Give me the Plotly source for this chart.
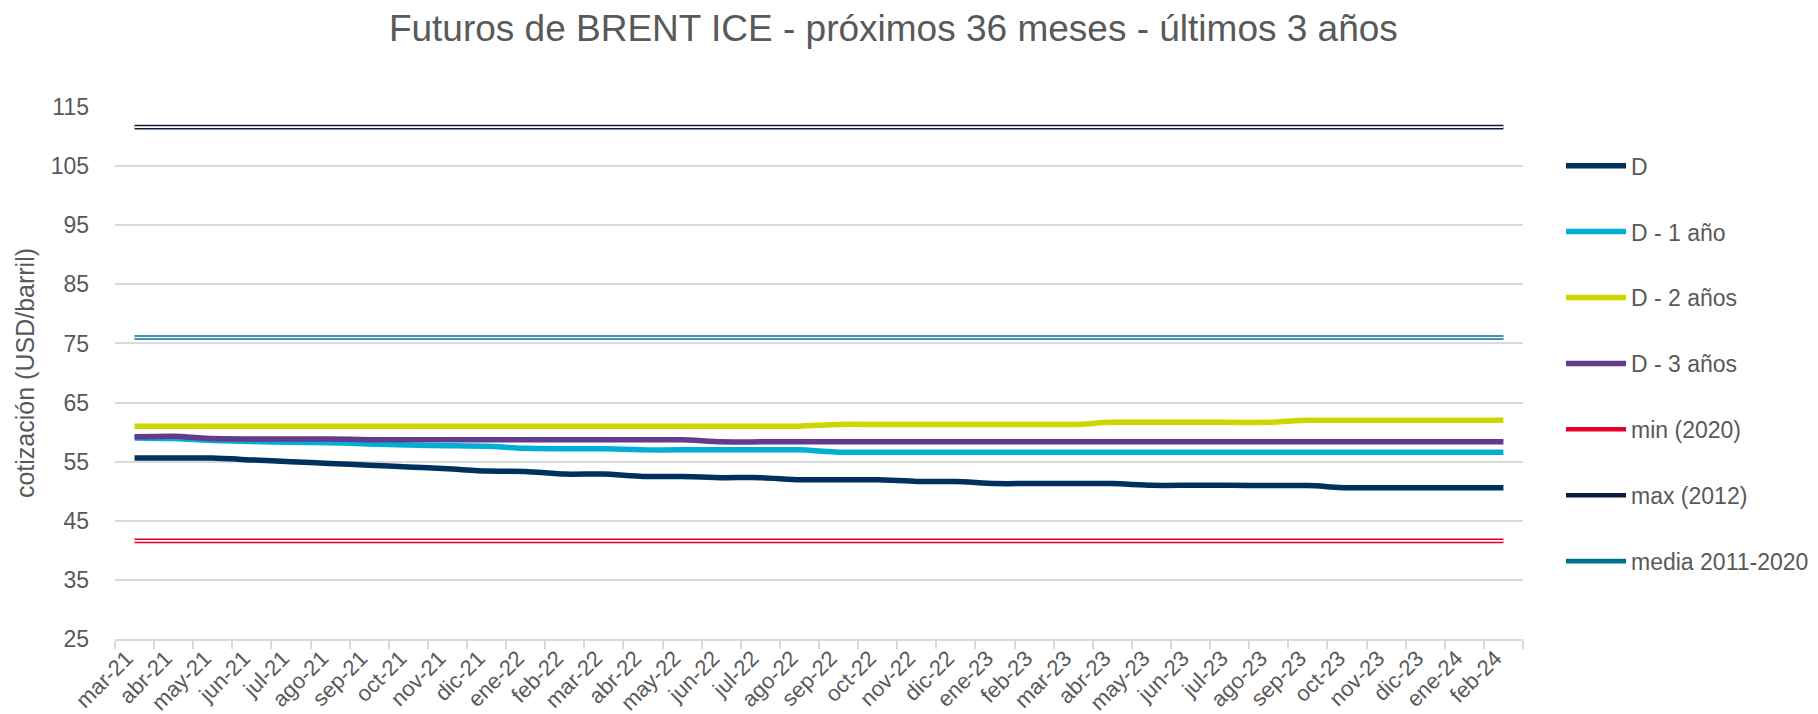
import plotly.graph_objects as go

months = ["mar-21", "abr-21", "may-21", "jun-21", "jul-21", "ago-21", "sep-21", "oct-21", "nov-21", "dic-21",
          "ene-22", "feb-22", "mar-22", "abr-22", "may-22", "jun-22", "jul-22", "ago-22", "sep-22", "oct-22",
          "nov-22", "dic-22", "ene-23", "feb-23", "mar-23", "abr-23", "may-23", "jun-23", "jul-23", "ago-23",
          "sep-23", "oct-23", "nov-23", "dic-23", "ene-24", "feb-24"]

d_hoy = [55.6, 55.6, 55.6, 55.3, 55.0, 54.7, 54.4, 54.1, 53.8, 53.4,
         53.35, 52.9, 52.9, 52.5, 52.5, 52.3, 52.3, 51.95, 51.95, 51.95,
         51.65, 51.65, 51.3, 51.3, 51.3, 51.3, 51.0, 51.0, 51.0, 50.95,
         50.95, 50.6, 50.6, 50.6, 50.6, 50.6]
d_1 = [59.0, 58.9, 58.6, 58.4, 58.3, 58.2, 58.0, 57.8, 57.7, 57.6,
       57.25, 57.2, 57.2, 57.0, 57.0, 57.0, 57.0, 57.0, 56.6, 56.6,
       56.6, 56.6, 56.6, 56.6, 56.6, 56.6, 56.6, 56.6, 56.6, 56.6,
       56.6, 56.6, 56.6, 56.6, 56.6, 56.6]
d_2 = [61.0] * 18 + [61.3] * 7 + [61.65] * 5 + [62.0] * 6
d_3 = [59.2, 59.3, 58.9, 58.85, 58.85, 58.85, 58.7, 58.7, 58.7, 58.7,
       58.7, 58.7, 58.7, 58.7, 58.7, 58.35, 58.35, 58.35, 58.35, 58.35,
       58.35, 58.35, 58.35, 58.35, 58.35, 58.35, 58.35, 58.35, 58.35, 58.35,
       58.35, 58.35, 58.35, 58.35, 58.35, 58.35]
min_2020 = 41.6
max_2012 = 111.6
media_2011_2020 = 76.0

series = [
    ("D", d_hoy, "#00305C"),
    ("D - 1 año", d_1, "#00AFD4"),
    ("D - 2 años", d_2, "#CCD600"),
    ("D - 3 años", d_3, "#643A8C"),
]
refs = [
    ("min (2020)", min_2020, "#E4002B"),
    ("max (2012)", max_2012, "#0B1D3A"),
    ("media 2011-2020", media_2011_2020, "#00738A"),
]

GRAY = "#595959"
FONT = "Liberation Sans, Arial, sans-serif"

fig = go.Figure()
for i, (name, vals, col) in enumerate(series):
    fig.add_trace(go.Scatter(x=months, y=vals, name=name, mode="lines",
                             line=dict(color=col, width=5.5, shape="spline", smoothing=0.6),
                             legendgroup=f"g{i}", legendrank=i))
for j, (name, val, col) in enumerate(refs):
    vals = [val] * len(months)
    fig.add_trace(go.Scatter(x=months, y=vals, name=name, mode="lines",
                             line=dict(color=col, width=4.6),
                             legendgroup=f"r{j}", legendrank=10 + j))
    fig.add_trace(go.Scatter(x=months, y=vals, name=name, mode="lines",
                             line=dict(color="white", width=1.6),
                             legendgroup=f"r{j}", showlegend=False, hoverinfo="skip"))

fig.update_layout(
    width=1818, height=714,
    paper_bgcolor="white", plot_bgcolor="white",
    margin=dict(l=107, r=303, t=99, b=83),
    font=dict(family=FONT, color=GRAY, size=23),
    title=dict(text="Futuros de BRENT ICE - próximos 36 meses - últimos 3 años",
               x=0.487, xref="container", xanchor="center",
               y=0.972, yref="container", yanchor="middle",
               font=dict(size=37, color=GRAY, family=FONT)),
    showlegend=True,
    legend=dict(x=1.027, xanchor="left", y=0.93, yanchor="top",
                font=dict(size=23, color=GRAY), tracegroupgap=33,
                itemwidth=60, bgcolor="rgba(0,0,0,0)"),
)
fig.update_xaxes(type="category", range=[-0.5, len(months) - 0.5],
                 tickangle=-45, showgrid=False, automargin=False,
                 showline=True, linecolor="#D9D9D9", linewidth=1.5,
                 ticks="outside", tickson="boundaries", ticklen=8, tickcolor="#D9D9D9",
                 tickwidth=1.5, ticklabelstandoff=-4, ticklabelshift=-8,
                 tickfont=dict(size=22, color=GRAY))
fig.update_yaxes(range=[25, 115], tick0=25, dtick=10, showgrid=True, automargin=False,
                 gridcolor="#D9D9D9", gridwidth=1.5, zeroline=False,
                 ticklabelstandoff=25, tickfont=dict(size=23, color=GRAY),
                 title=dict(text="cotización (USD/barril)", standoff=8,
                            font=dict(size=25, color=GRAY)))

fig.write_html("out.html")
